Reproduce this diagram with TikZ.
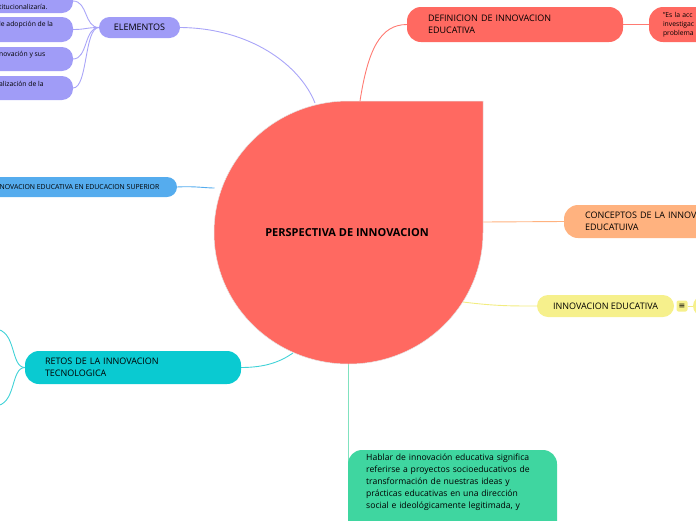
\documentclass[tikz,border=0pt]{standalone}
\usepackage{fontspec}
\setmainfont{Open Sans}
\newfontfamily\symfont{DejaVu Sans}
\pgfdeclarelayer{bg}
\pgfsetlayers{bg,main}
\definecolor{cPur}{HTML}{A09CF7}
\definecolor{cPurL}{HTML}{A9A5F8}
\definecolor{cRed}{HTML}{FF6961}
\definecolor{cRedL}{HTML}{FF7A72}
\definecolor{cBlue}{HTML}{55ACEE}
\definecolor{cOr}{HTML}{FFB27F}
\definecolor{cYel}{HTML}{F6F08C}
\definecolor{cYelL}{HTML}{F2EC80}
\definecolor{cCy}{HTML}{0ACAD1}
\definecolor{cCyL}{HTML}{40D2D7}
\definecolor{cGr}{HTML}{3FD6A0}
\definecolor{cGrL}{HTML}{80E2BF}
\tikzset{
  pill/.style={inner ysep=0pt, outer sep=0pt, align=left},
  conn/.style={line width=0.9pt},
  mainf/.style={font=\fontsize{9}{11.5}\selectfont},
  smallf/.style={font=\fontsize{6.8}{9}\selectfont},
}
\begin{document}
\begin{tikzpicture}[x=1pt,y=-1pt]
\useasboundingbox (0,0) rectangle (696,520);
\clip (0,0) rectangle (696,520);

% central shape
\fill[cRed] (348.5,101) -- (483,101) -- (483,232.5)
  arc[start angle=0, end angle=270, x radius=134.5, y radius=131.5] -- cycle;
\draw[black!10, line width=0.5pt] (348.5,101) -- (483,101) -- (483,232.5)
  arc[start angle=0, end angle=270, x radius=134.5, y radius=131.5] -- cycle;
\node[font=\bfseries\fontsize{11}{13}\selectfont, inner sep=0] (root) at (347,233) {PERSPECTIVA DE INNOVACION};

\coordinate (cE) at (315,103);
\coordinate (cD) at (360,101);
\coordinate (cB) at (214.5,188);
\coordinate (cC) at (483,222);
\coordinate (cY) at (463,302);
\coordinate (cR) at (293,353);
\coordinate (cG) at (348.5,363);

% ELEMENTOS branch
\node[pill, fill=cPur, mainf, minimum width=81pt, minimum height=21pt, rounded corners=10.5pt, inner xsep=0pt, align=center] (elem) at (139.5,27.5) {ELEMENTOS};
\node[pill, fill=cPur, minimum width=133pt, minimum height=24pt, rounded corners=11pt] (pa) at (6.5,1) {};
\node[pill, fill=cPur, minimum width=133pt, minimum height=25pt, rounded corners=11pt] (pb) at (6.5,29.5) {};
\node[pill, fill=cPur, minimum width=133pt, minimum height=24pt, rounded corners=11pt] (pc) at (6.5,59) {};
\node[pill, fill=cPur, minimum width=133pt, minimum height=24pt, rounded corners=11pt] (pd) at (6.5,88) {};
\node[smallf, anchor=west, inner sep=0] (pat) at (-1,6.5) {titucionalizaría.};
\node[smallf, anchor=west, inner sep=0] (pbt) at (-1,25) {le adopción de la};
\node[smallf, anchor=west, inner sep=0] (pct) at (-1,54.5) {novación y sus};
\node[smallf, anchor=west, inner sep=0] (pdt) at (-1,83.5) {alización de la};

% DEFINICION branch
\node[pill, fill=cRed, mainf, font=\fontsize{9}{12}\selectfont, text width=174pt, inner xsep=21pt, minimum height=35pt, rounded corners=14pt] (def) at (515,24.5) {DEFINICION DE INNOVACION\\EDUCATIVA};
\node[pill, fill=cRed, smallf, text width=83pt, inner xsep=14pt, minimum height=35pt, rounded corners=14pt] (defq) at (704.5,24.5) {"Es la acc\\investigac\\problema};

% blue branch
\node[pill, fill=cBlue, minimum width=237pt, minimum height=20pt, rounded corners=10pt] (blue) at (58.5,187) {};
\node[font=\fontsize{6.9}{8}\selectfont, anchor=west, inner sep=0] (bluet) at (-0.5,187) {NOVACION EDUCATIVA EN EDUCACION SUPERIOR};

% CONCEPTOS
\node[pill, fill=cOr, mainf, text width=174pt, inner xsep=21pt, minimum height=33pt, rounded corners=14pt] (conc) at (672,221.5) {CONCEPTOS DE LA INNOVACION\\EDUCATUIVA};

% INNOVACION EDUCATIVA
\node[pill, fill=cYel, mainf, minimum width=137pt, minimum height=22pt, rounded corners=11pt, inner xsep=0pt, align=center] (inn) at (605.5,306) {INNOVACION EDUCATIVA};
\node[fill=cYel, minimum size=11pt, rounded corners=2pt, inner sep=0pt, font=\symfont\fontsize{8}{8}\selectfont] (icon) at (682,306) {≡};
\node[pill, fill=cYel, minimum width=60pt, minimum height=20pt, rounded corners=10pt] (nexty) at (723,306) {};

% RETOS
\node[pill, fill=cCy, mainf, text width=176pt, inner xsep=20pt, minimum height=33pt, rounded corners=14pt] (retos) at (133,367.5) {RETOS DE LA INNOVACION\\TECNOLOGICA};
\coordinate (cyA) at (-6,329);
\coordinate (cyB) at (-6,406);

% green
\node[pill, fill=cGr, anchor=north west, minimum width=209pt, minimum height=120pt, rounded corners=14pt] (gbox) at (348,450) {};
\node[anchor=north west, inner sep=0pt, text width=180pt, align=left, font=\fontsize{8.6}{12}\selectfont] (gtext) at (366,453.5) {Hablar de innovación educativa significa\\referirse a proyectos socioeducativos de\\transformación de nuestras ideas y\\prácticas educativas en una dirección\\social e ideológicamente legitimada, y};
\coordinate (gT) at (348.5,470);

\begin{pgfonlayer}{bg}
\draw[conn, cPurL] (elem.east) .. controls (250,28) and (300,65) .. (cE);
\draw[conn, cPurL] (elem.west) .. controls (84,27.5) and (88,1) .. (pa.east);
\draw[conn, cPurL] (elem.west) .. controls (86,27.5) and (86,29.5) .. (pb.east);
\draw[conn, cPurL] (elem.west) .. controls (84,27.5) and (88,59) .. (pc.east);
\draw[conn, cPurL] (elem.west) .. controls (84,27.5) and (88,88) .. (pd.east);
\draw[conn, cRedL] (cD) .. controls (368,50) and (380,24.5) .. (def.west);
\draw[conn, cRedL] (def.east) -- (defq.west);
\draw[conn, cBlue] (blue.east) .. controls (195,186) and (205,188) .. (cB);
\draw[conn, cOr] (cC) -- (conc.west);
\draw[conn, cYelL] (cY) .. controls (495,306) and (510,306) .. (inn.west);
\draw[conn, cYelL] (icon.east) -- (nexty.west);
\draw[conn, cCyL] (retos.east) .. controls (265,367.5) and (280,362) .. (cR);
\draw[conn, cCyL] (retos.west) .. controls (10,367.5) and (17,329) .. (cyA);
\draw[conn, cCyL] (retos.west) .. controls (10,367.5) and (17,406) .. (cyB);
\draw[conn, cGrL] (cG) -- (gT);
\end{pgfonlayer}
\end{tikzpicture}
\end{document}
